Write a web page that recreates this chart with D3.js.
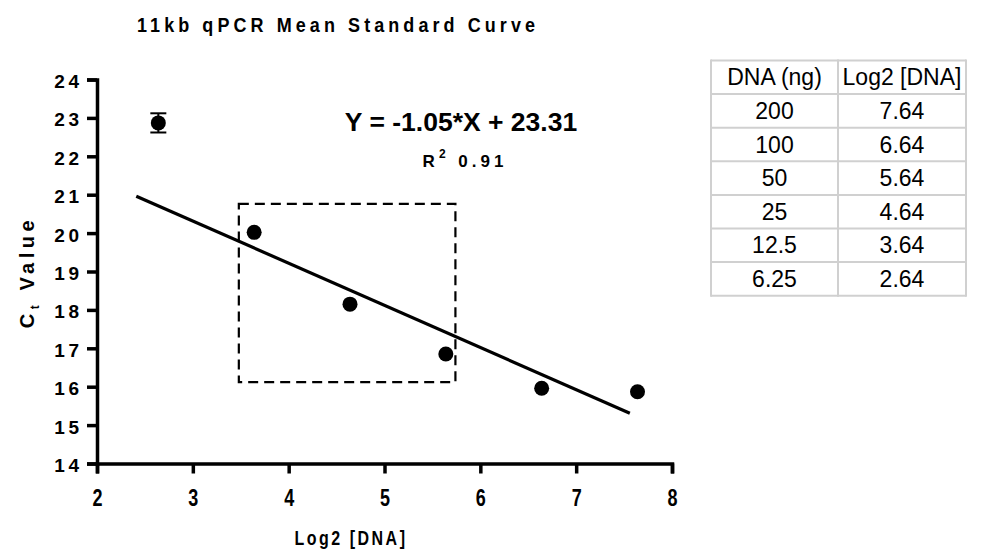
<!DOCTYPE html>
<html>
<head>
<meta charset="utf-8">
<script src="https://cdn.jsdelivr.net/npm/d3@7"></script>
<style>
  body { margin: 0; background: #fff; }
  svg text { font-family: "Liberation Sans", Arial, sans-serif; fill: #000; }
</style>
</head>
<body>
<script>
// standard curve points (mean Ct per dilution)
var log2DNA = [2.64, 3.64, 4.64, 5.64, 6.64, 7.64];
var ctMean = [22.87, 20.02, 18.15, 16.85, 15.96, 15.87];
var ctErr = [0.25, 0, 0, 0, 0, 0];

// regression line as drawn
var fitX = [2.41, 7.56];
var fitY = [20.96, 15.31];

// dashed highlight box
var boxX = [3.48, 5.74];
var boxY = [16.12, 20.76];

var xTicks = [2, 3, 4, 5, 6, 7, 8];
var yTicks = [14, 15, 16, 17, 18, 19, 20, 21, 22, 23, 24];

// table
var tableHead = ["DNA (ng)", "Log2 [DNA]"];
var dnaNg = ["200", "100", "50", "25", "12.5", "6.25"];
var log2Col = ["7.64", "6.64", "5.64", "4.64", "3.64", "2.64"];

var w = 994, h = 555;

var x = d3.scaleLinear().domain([2, 8]).range([97, 672]);
var y = d3.scaleLinear().domain([14, 24]).range([463.5, 79.5]);

var svg = d3.select("body").append("svg")
    .attr("width", w)
    .attr("height", h);

// title (slightly tall glyphs like the original)
svg.append("g")
    .attr("transform", "translate(137,32) scale(1,1.12)")
    .append("text")
    .attr("font-size", 18)
    .attr("font-weight", "bold")
    .attr("textLength", 398)
    .attr("lengthAdjust", "spacing")
    .text("11kb qPCR Mean Standard Curve");

// axes
var yAxis = svg.append("g")
    .attr("transform", "translate(" + x(2) + ",0)")
    .call(d3.axisLeft(y).tickValues(yTicks).tickFormat(d3.format("d")).tickSize(10).tickPadding(8));

var xAxis = svg.append("g")
    .attr("transform", "translate(0," + y(14) + ")")
    .call(d3.axisBottom(x).tickValues(xTicks).tickFormat(d3.format("d")).tickSize(10));

[xAxis, yAxis].forEach(function (g) {
    g.select(".domain").attr("stroke-width", 3.5).attr("stroke", "#000");
    g.selectAll(".tick line").attr("stroke-width", 3.5).attr("stroke", "#000");
    g.selectAll(".tick text")
        .attr("font-weight", "bold")
        .attr("fill", "#000")
        .attr("font-family", "Liberation Sans, Arial, sans-serif");
});
yAxis.selectAll(".tick text")
    .attr("font-size", 19)
    .attr("letter-spacing", 3.5)
    .attr("dx", 3.5)
    .attr("dy", "0.42em");
// x labels: stretched vertically, baseline ~ 43px below axis
xAxis.selectAll(".tick text")
    .attr("font-size", 18)
    .attr("y", 43 / 1.3)
    .attr("dy", 0)
    .attr("transform", "scale(1,1.3)");

// axis titles
svg.append("g")
    .attr("transform", "translate(351,545) scale(1,1.3)")
    .append("text")
    .attr("text-anchor", "middle")
    .attr("font-size", 16)
    .attr("font-weight", "bold")
    .attr("letter-spacing", 2.5)
    .text("Log2 [DNA]");

var yl = svg.append("text")
    .attr("transform", "translate(34,272) rotate(-90)")
    .attr("text-anchor", "middle")
    .attr("font-size", 20)
    .attr("font-weight", "bold")
    .attr("letter-spacing", 4.5);
yl.append("tspan").text("C");
yl.append("tspan").attr("font-size", 12).attr("dy", 5).text("t");
yl.append("tspan").attr("dy", -5).text(" Value");

// dashed box
svg.append("rect")
    .attr("x", x(boxX[0]))
    .attr("y", y(boxY[1]))
    .attr("width", x(boxX[1]) - x(boxX[0]))
    .attr("height", y(boxY[0]) - y(boxY[1]))
    .attr("fill", "none")
    .attr("stroke", "#000")
    .attr("stroke-width", 2.2)
    .attr("stroke-dasharray", "10,6");

// fit line
svg.append("line")
    .attr("x1", x(fitX[0]))
    .attr("y1", y(fitY[0]))
    .attr("x2", x(fitX[1]))
    .attr("y2", y(fitY[1]))
    .attr("stroke", "#000")
    .attr("stroke-width", 3.2);

// error bars
var pts = log2DNA.map(function (d, i) {
    return {x: d, y: ctMean[i], e: ctErr[i]};
});
var eb = svg.selectAll(".err")
    .data(pts.filter(function (d) { return d.e > 0; }))
    .enter().append("g")
    .attr("stroke", "#000")
    .attr("stroke-width", 2);
eb.append("line")
    .attr("x1", function (d) { return x(d.x); })
    .attr("x2", function (d) { return x(d.x); })
    .attr("y1", function (d) { return y(d.y + d.e); })
    .attr("y2", function (d) { return y(d.y - d.e); });
eb.selectAll(".cap")
    .data(function (d) { return [[d.x, d.y + d.e], [d.x, d.y - d.e]]; })
    .enter().append("line")
    .attr("x1", function (d) { return x(d[0]) - 8; })
    .attr("x2", function (d) { return x(d[0]) + 8; })
    .attr("y1", function (d) { return y(d[1]); })
    .attr("y2", function (d) { return y(d[1]); });

// points
svg.selectAll("circle")
    .data(pts)
    .enter().append("circle")
    .attr("cx", function (d) { return x(d.x); })
    .attr("cy", function (d) { return y(d.y); })
    .attr("r", 7.5)
    .attr("fill", "#000");

// equation
svg.append("text")
    .attr("x", 461)
    .attr("y", 131)
    .attr("text-anchor", "middle")
    .attr("font-size", 26.5)
    .attr("font-weight", "bold")
    .text("Y = -1.05*X + 23.31");

var r2 = svg.append("text")
    .attr("x", 465)
    .attr("y", 167)
    .attr("text-anchor", "middle")
    .attr("font-size", 17)
    .attr("font-weight", "bold")
    .attr("letter-spacing", 4);
r2.append("tspan").text("R");
r2.append("tspan").attr("font-size", 12).attr("dy", -9).text("2");
r2.append("tspan").attr("dy", 9).text(" 0.91");

// table
var tx = [711, 838, 966];
var ty0 = 60.5, rowH = 33.6;
var rows = [tableHead].concat(dnaNg.map(function (d, i) { return [d, log2Col[i]]; }));
var tbl = svg.append("g");
tbl.selectAll(".hl")
    .data(d3.range(rows.length + 1))
    .enter().append("line")
    .attr("x1", tx[0]).attr("x2", tx[2])
    .attr("y1", function (i) { return ty0 + i * rowH; })
    .attr("y2", function (i) { return ty0 + i * rowH; })
    .attr("stroke", "#d0d0d0")
    .attr("stroke-width", 2);
tbl.selectAll(".vl")
    .data(tx)
    .enter().append("line")
    .attr("x1", function (d) { return d; })
    .attr("x2", function (d) { return d; })
    .attr("y1", ty0 - 1)
    .attr("y2", ty0 + rows.length * rowH + 1)
    .attr("stroke", "#d0d0d0")
    .attr("stroke-width", 2);
rows.forEach(function (r, i) {
    r.forEach(function (c, j) {
        tbl.append("text")
            .attr("x", (tx[j] + tx[j + 1]) / 2)
            .attr("y", ty0 + i * rowH + rowH / 2 + 8)
            .attr("text-anchor", "middle")
            .attr("font-size", 23)
            .attr("fill", "#111")
            .text(c);
    });
});
</script>
</body>
</html>
